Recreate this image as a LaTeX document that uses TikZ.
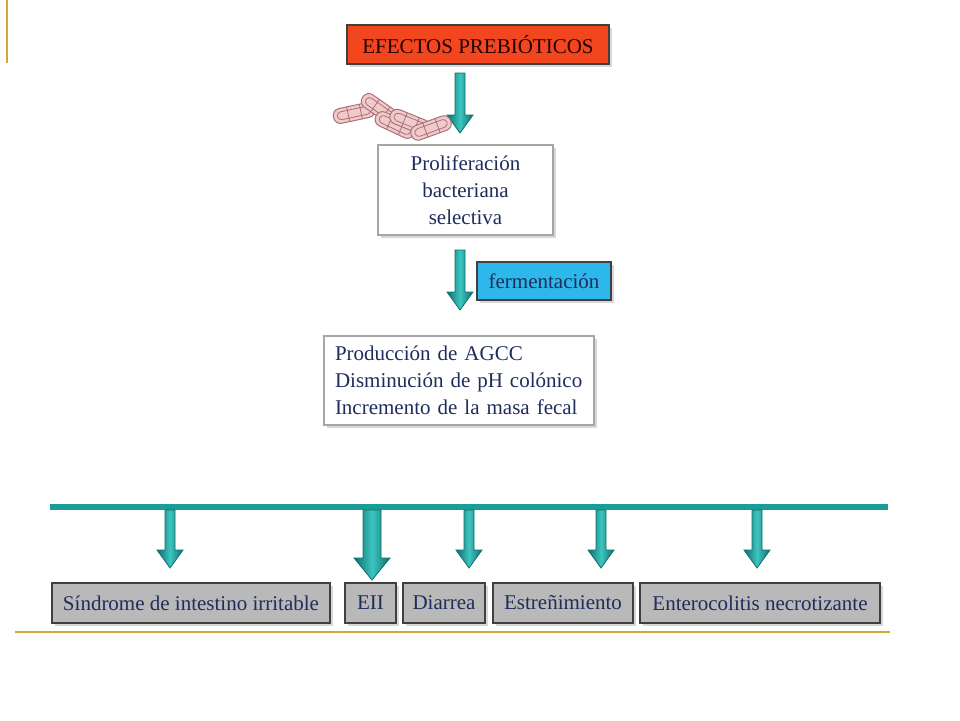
\documentclass[tikz,border=0pt]{standalone}
\usepackage{fontspec}
\setmainfont{Liberation Serif}
\usetikzlibrary{positioning,calc,shadows}

\definecolor{tealdark}{HTML}{0F6F6B}
\definecolor{teallight}{HTML}{3CC4C0}
\definecolor{tealmid}{HTML}{1A9C98}
\definecolor{navytext}{HTML}{1F2D5C}
\definecolor{redbox}{HTML}{F2461E}
\definecolor{bluebox}{HTML}{2DB7EA}
\definecolor{graybox}{HTML}{B9B9B9}
\definecolor{goldline}{HTML}{D4A637}
\definecolor{rodfill}{HTML}{F2CACA}
\definecolor{rodline}{HTML}{A8727A}

% fat teal arrow: from, tip, half shaft, half head
\newcommand{\fatarrow}[5][18]{%
  \draw[fatarr] ($(#2)+(-#4,0)$) -- ($(#3)+(-#4,-#1)$) -- ($(#3)+(-#5,-#1)$) -- (#3)
    -- ($(#3)+(#5,-#1)$) -- ($(#3)+(#4,-#1)$) -- ($(#2)+(#4,0)$) -- cycle;}

\begin{document}
\begin{tikzpicture}[x=1pt,y=-1pt,
  txt/.style={font=\fontsize{21}{27}\selectfont, text=navytext, inner sep=0pt},
  whitebox/.style={txt, draw=gray!70, line width=1.2pt, fill=white,
    drop shadow={shadow xshift=3pt, shadow yshift=-3pt, fill=gray!60}},
  colbox/.style={txt, draw=black!75, line width=1.5pt,
    drop shadow={shadow xshift=3pt, shadow yshift=-3pt, fill=gray!60}},
  fatarr/.style={draw=tealdark, line width=0.8pt, left color=tealdark, right color=tealdark, middle color=teallight},
  rod/.style={draw=rodline, line width=1pt, fill=rodfill, rounded corners=7pt}]

\useasboundingbox (0,0) rectangle (960,720);

% gold rules
\draw[goldline, line width=2pt] (7,0) -- (7,63);
\draw[goldline, line width=1.5pt] (15,632) -- (890,632);

% top chain
\node[colbox, fill=redbox, text=black!75!red!60!black, minimum width=262pt, minimum height=39pt] (efectos) at (478,44.5) {EFECTOS PREBIÓTICOS};
\node[whitebox, minimum width=175pt, minimum height=90pt, align=center] (prolif) at (465.5,190) {Proliferación\\bacteriana\\selectiva};
\node[colbox, fill=bluebox, minimum width=134pt, minimum height=38pt] (ferm) at (544,281) {fermentación};
\node[whitebox, minimum width=270pt, minimum height=89pt, align=left, text width=248pt] (prod) at (459,380.5) {Producción de AGCC\\Disminución de pH colónico\\Incremento de la masa fecal};

\coordinate (a1s) at (460,73);  \coordinate (a1e) at (460,133);
\coordinate (a2s) at (460,250); \coordinate (a2e) at (460,310);
\fatarrow{a1s}{a1e}{5}{13}
\fatarrow{a2s}{a2e}{5}{13}

% bacteria
\foreach \x/\y/\a in {354/113/12, 380/109/-35, 395/125/-25, 410/122/-22, 431/128/20} {
  \draw[rod, shift={(\x,\y)}, rotate=\a] (-21,-7.5) rectangle (21,7.5);
  \draw[rodline, line width=0.8pt, rounded corners=4pt, shift={(\x,\y)}, rotate=\a]
    (-17,-4) rectangle (17,4) (-6,-7.5) -- (-6,7.5) (7,-7.5) -- (7,7.5);
}

% bar and outcomes
\coordinate (barl) at (50,507); \coordinate (barr) at (888,507);
\draw[tealmid, line width=6pt] (barl) -- (barr);

\node[colbox, fill=graybox, minimum width=278pt, minimum height=40pt] (sii) at (191,603) {Síndrome de intestino irritable};
\node[colbox, fill=graybox, minimum width=51pt, minimum height=40pt] (eii) at (370.5,603) {EII};
\node[colbox, fill=graybox, minimum width=82pt, minimum height=40pt] (diarrea) at (444,603) {Diarrea};
\node[colbox, fill=graybox, minimum width=140pt, minimum height=40pt] (estr) at (563,603) {Estreñimiento};
\node[colbox, fill=graybox, minimum width=240pt, minimum height=40pt] (entero) at (760,603) {Enterocolitis necrotizante};

\foreach \n/\x in {1/170, 3/469, 4/601, 5/757} {
  \coordinate (b\n) at (\x,510);
  \coordinate (t\n) at (\x,568);
  \fatarrow{b\n}{t\n}{5}{13}
}
\coordinate (b2) at (372,510); \coordinate (t2) at (372,580);
\fatarrow[22]{b2}{t2}{9}{18}

\end{tikzpicture}
\end{document}
